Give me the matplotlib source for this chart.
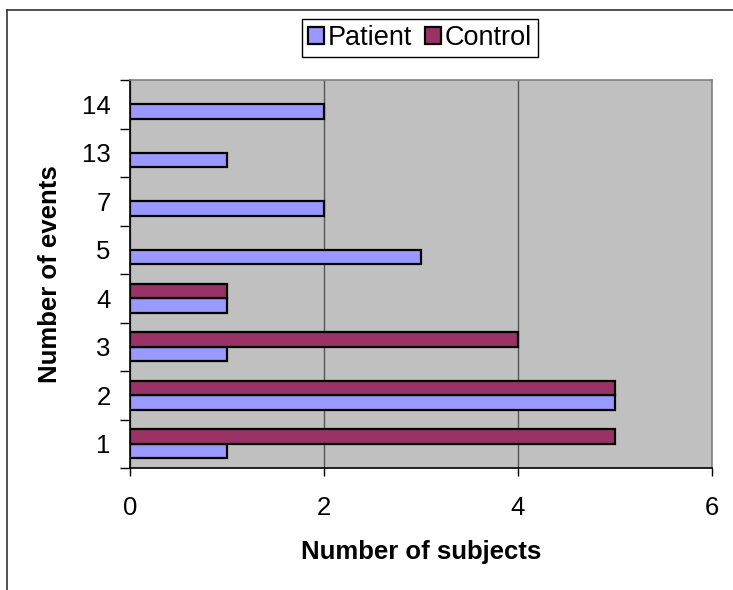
import numpy as np
import matplotlib
matplotlib.use("Agg")
import matplotlib.pyplot as plt
from matplotlib.patches import Patch
from matplotlib.lines import Line2D

# Number of events per subject, and how many subjects had that count
categories = ["1", "2", "3", "4", "5", "7", "13", "14"]
patient = [1, 5, 1, 1, 3, 2, 1, 2]
control = [5, 5, 4, 1, 0, 0, 0, 0]
x_ticks = [0, 2, 4, 6]

PATIENT_COLOR = "#9999FF"
CONTROL_COLOR = "#993366"

plt.rcParams["font.family"] = ["Liberation Sans", "DejaVu Sans"]

W, H = 733, 590
fig = plt.figure(figsize=(W / 100, H / 100), dpi=100)
fig.patch.set_facecolor("white")

# outer chart frame (open on the right and bottom)
fig.add_artist(Line2D([7 / W, 7 / W], [0, 1 - 10 / H], transform=fig.transFigure,
                      color="#333333", lw=1.2))
fig.add_artist(Line2D([7 / W, 1], [1 - 10 / H, 1 - 10 / H], transform=fig.transFigure,
                      color="#333333", lw=1.2))

ax = fig.add_axes([130 / W, 1 - 468 / H, 582 / W, 388 / H])
ax.set_facecolor("#C0C0C0")

pos = np.arange(len(categories))
h = 0.3

p_idx = [i for i, v in enumerate(patient) if v > 0]
c_idx = [i for i, v in enumerate(control) if v > 0]
ax.barh(pos[p_idx] - h / 2, [patient[i] for i in p_idx], height=h,
        color=PATIENT_COLOR, edgecolor="black", linewidth=1.6, zorder=3)
ax.barh(pos[c_idx] + h / 2, [control[i] for i in c_idx], height=h,
        color=CONTROL_COLOR, edgecolor="black", linewidth=1.6, zorder=3)

ax.set_xlim(0, 6)
ax.set_ylim(-0.5, len(categories) - 0.5)

# x axis
ax.set_xticks(x_ticks)
ax.set_xticklabels([str(t) for t in x_ticks], fontsize=18.5)
ax.tick_params(axis="x", direction="out", length=6, width=1, color="black", pad=14.5)
ax.grid(axis="x", color="#555555", lw=1)
ax.set_axisbelow(True)

# y axis: ticks between categories, labels centred on each category
ax.set_yticks(np.arange(-0.5, len(categories), 1))
ax.set_yticklabels([])
ax.set_yticks(pos, minor=True)
ax.set_yticklabels(categories, minor=True, fontsize=18.5)
ax.tick_params(axis="y", which="major", direction="out", length=7, width=1, color="black")
ax.tick_params(axis="y", which="minor", length=0, pad=14)

for side in ("left", "bottom"):
    ax.spines[side].set_color("black")
    ax.spines[side].set_linewidth(1.2)
for side in ("top", "right"):
    ax.spines[side].set_color("#808080")
    ax.spines[side].set_linewidth(1.2)

ax.set_xlabel("Number of subjects", fontsize=18.5, fontweight="bold", va="center")
ax.xaxis.set_label_coords(0.5, (468 - 552) / 388)
ax.set_ylabel("Number of events", fontsize=18.5, fontweight="bold", va="center")
ax.yaxis.set_label_coords((50 - 130) / 582, 0.5)

handles = [Patch(facecolor=PATIENT_COLOR, edgecolor="black", linewidth=1.6, label="Patient"),
           Patch(facecolor=CONTROL_COLOR, edgecolor="black", linewidth=1.6, label="Control")]
leg = fig.legend(handles=handles, loc="center", bbox_to_anchor=(420 / W, 1 - 38 / H),
                 ncol=2, frameon=True, fancybox=False, shadow=False, framealpha=1,
                 edgecolor="black", fontsize=19.5, handlelength=0.6, handleheight=0.6,
                 handletextpad=0.15, columnspacing=0.45, borderpad=0.22, borderaxespad=0)
leg.get_frame().set_linewidth(1)

fig.savefig("out.png", dpi=100, facecolor="white")
